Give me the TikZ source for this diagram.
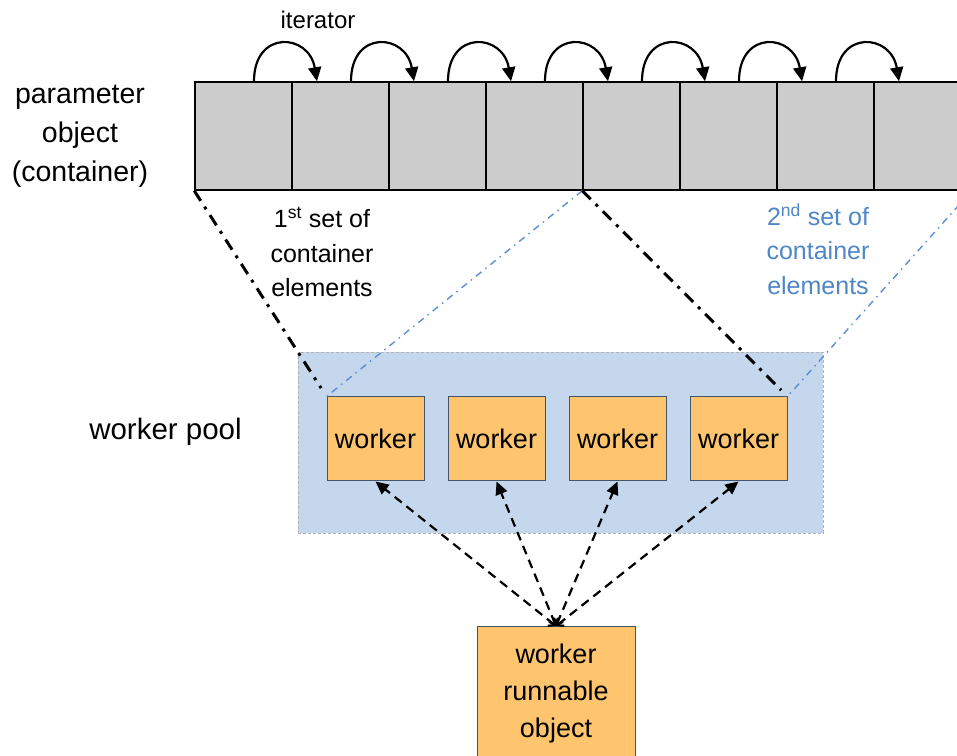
\documentclass[tikz,border=0pt]{standalone}
\usepackage{fontspec}
\setmainfont{Liberation Sans}
\usetikzlibrary{arrows.meta,calc,positioning}
\definecolor{cellgray}{HTML}{CCCCCC}
\definecolor{poolblue}{HTML}{C5D7EC}
\definecolor{workorange}{HTML}{FEC56E}
\definecolor{edgeblue}{HTML}{44546A}
\definecolor{setblue}{HTML}{4F86C6}
\definecolor{lineblue}{HTML}{5B8FD3}
\tikzstyle{cell} = [rectangle,minimum width=97pt,minimum height=108pt,fill=cellgray,draw=black,line width=1.5pt]
\tikzstyle{workbox} = [rectangle,minimum width=97pt,minimum height=84pt,fill=workorange,draw=edgeblue,line width=1pt,font=\fontsize{27}{37}\selectfont,align=center]
\tikzstyle{poolbox} = [rectangle,minimum width=525pt,minimum height=181pt,fill=poolblue,draw=gray!60,line width=0.8pt,dash pattern=on 3pt off 2pt]
\tikzstyle{plaintxt} = [inner sep=0pt,align=center]
\tikzstyle{cutline} = [line width=3pt,dash pattern=on 12pt off 7pt on 3pt off 7pt]
\tikzstyle{cutblue} = [line width=1.4pt,lineblue,dash pattern=on 7pt off 5pt on 1.5pt off 5pt]
\tikzstyle{iter} = [line width=2.2pt,-{Triangle[length=14pt,width=13pt]}]
\tikzstyle{link} = [line width=2.2pt,dash pattern=on 9pt off 6pt,arrows={Straight Barb[length=5pt,width=10pt]-Triangle[length=13pt,width=12pt]}]

\begin{document}
\begin{tikzpicture}[x=1pt,y=1pt,node distance=97pt]
\useasboundingbox (0,0) rectangle (957,755);

% worker pool in the back
\node (pool) [poolbox] at (560.5,312.5) {};

% container cells
\node (c1) [cell] at (243.5,619) {};
\node (c2) [cell,right of=c1] {};
\node (c3) [cell,right of=c2] {};
\node (c4) [cell,right of=c3] {};
\node (c5) [cell,right of=c4] {};
\node (c6) [cell,right of=c5] {};
\node (c7) [cell,right of=c6] {};
\node (c8) [cell,right of=c7] {};

% workers
\node (w1) [workbox] at (375.5,316) {worker};
\node (w2) [workbox,right of=w1,xshift=24pt] {worker};
\node (w3) [workbox,right of=w2,xshift=24pt] {worker};
\node (w4) [workbox,right of=w3,xshift=24pt] {worker};
\node (run) [workbox,minimum width=158pt,minimum height=134pt] at (556,61.5) {worker\\runnable\\object};

% texts
\node (partxt) [plaintxt,left of=c1,xshift=-66.5pt,font=\fontsize{28.5}{39}\selectfont] {parameter\\object\\(container)};
\node (itertxt) [plaintxt,above of=c2,xshift=-22.5pt,yshift=19pt,font=\fontsize{24}{30}\selectfont] {iterator};
\node (set1) [plaintxt,below of=c2,xshift=-18.5pt,yshift=-19pt,font=\fontsize{25}{34.5}\selectfont] {1\textsuperscript{st} set of\\container\\elements};
\node (set2) [plaintxt,below of=c7,xshift=-7.5pt,yshift=-16pt,text=setblue,font=\fontsize{25}{34.5}\selectfont] {2\textsuperscript{nd} set of\\container\\elements};
\node (pooltxt) [plaintxt,left of=w1,xshift=-113pt,yshift=7pt,font=\fontsize{29.5}{34}\selectfont] {worker pool};

% split of the container onto the workers
\draw[cutblue] (c5.south west) -- (w1.north west);
\draw[cutblue] (c8.south east) -- (w4.north east);
\draw[cutline,shorten >=10pt] (c1.south west) -- (w1.north west);
\draw[cutline,shorten >=9pt] (c5.south west) -- (w4.north east);

\foreach \i [count=\j from 2] in {1,...,7}
{
  \draw[iter] ($(c\i.north)+(10.5,0)$) .. controls +(0,52) and +(-8,48) .. ($(c\j.north)+(-23.5,0)$);
}

\foreach \i in {1,2,3,4}
{
  \draw[link] (run.north) -- (w\i.south);
}

\end{tikzpicture}
\end{document}
